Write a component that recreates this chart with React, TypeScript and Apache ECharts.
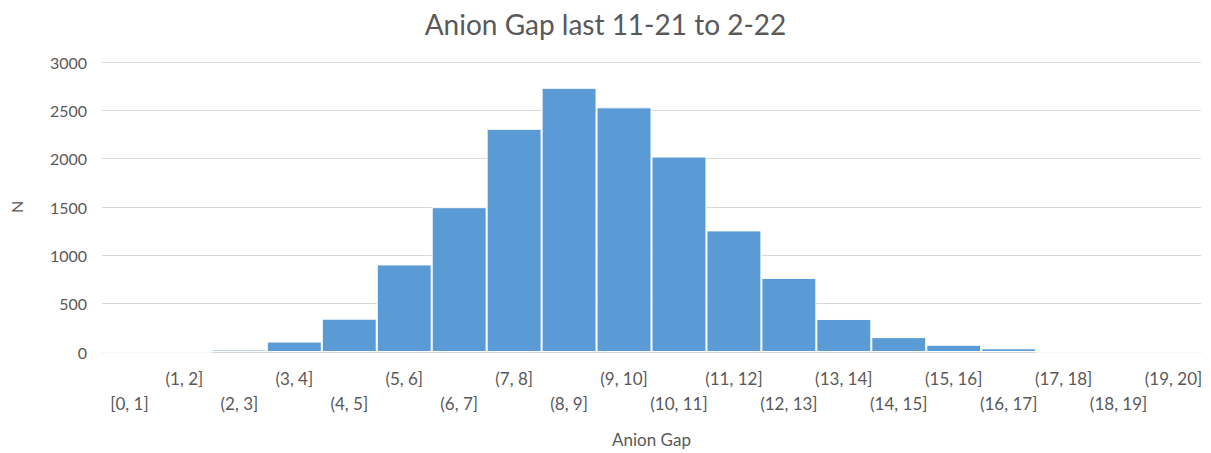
import React, { useEffect, useRef } from "react";
import * as echarts from "echarts";

const categories = [
  "[0, 1]", "(1, 2]", "(2, 3]", "(3, 4]", "(4, 5]", "(5, 6]", "(6, 7]", "(7, 8]", "(8, 9]", "(9, 10]",
  "(10, 11]", "(11, 12]", "(12, 13]", "(13, 14]", "(14, 15]", "(15, 16]", "(16, 17]", "(17, 18]", "(18, 19]", "(19, 20]",
];
const counts = [0, 0, 25, 108, 345, 906, 1498, 2309, 2733, 2531, 2022, 1258, 766, 342, 154, 75, 38, 0, 0, 0];
const yTicks = { min: 0, max: 3000, interval: 500 };
const titleText = "Anion Gap last 11-21 to 2-22";
const xName = "Anion Gap";
const yName = "N";

export default function App() {
  const ref = useRef<HTMLDivElement>(null);
  useEffect(() => {
    if (!ref.current) return;
    const chart = echarts.init(ref.current, null, { renderer: "svg" });
    const font = "Lato, 'Open Sans', sans-serif";
    chart.setOption({
      animation: false,
      backgroundColor: "#ffffff",
      title: {
        text: titleText,
        left: "center",
        top: 5,
        textStyle: { color: "#595959", fontSize: 28, fontWeight: "normal", fontFamily: font },
      },
      grid: { left: 101, right: 10, top: 62, bottom: 99 },
      xAxis: {
        type: "category",
        data: categories,
        name: xName,
        nameLocation: "middle",
        nameGap: 79,
        nameTextStyle: { color: "#595959", fontSize: 17, fontFamily: font },
        axisLine: { show: true, lineStyle: { color: "#D9D9D9", width: 1 } },
        axisTick: { show: false },
        axisLabel: {
          interval: 0,
          color: "#595959",
          fontSize: 17,
          fontFamily: font,
          margin: 14,
          lineHeight: 25,
          formatter: (v: string, i: number) => (i % 2 === 0 ? "\n" + v : v),
        },
      },
      yAxis: {
        type: "value",
        min: yTicks.min,
        max: yTicks.max,
        interval: yTicks.interval,
        name: yName,
        nameLocation: "middle",
        nameGap: 78,
        nameRotate: 90,
        nameTextStyle: { color: "#595959", fontSize: 16, fontFamily: font },
        axisLine: { show: false },
        axisTick: { show: false },
        axisLabel: {
          color: "#595959",
          fontSize: 16,
          fontFamily: font,
          margin: 15,
          formatter: (v: number) => String(v),
        },
        splitLine: { lineStyle: { color: "#D9D9D9", width: 1 } },
      },
      series: [
        {
          type: "bar",
          data: counts,
          barCategoryGap: "0%",
          itemStyle: { color: "#5B9BD5", borderColor: "#ffffff", borderWidth: 1 },
        },
      ],
    });
    return () => chart.dispose();
  }, []);
  return <div ref={ref} style={{ position: "fixed", left: 0, top: 0, width: 1211, height: 453 }} />;
}
